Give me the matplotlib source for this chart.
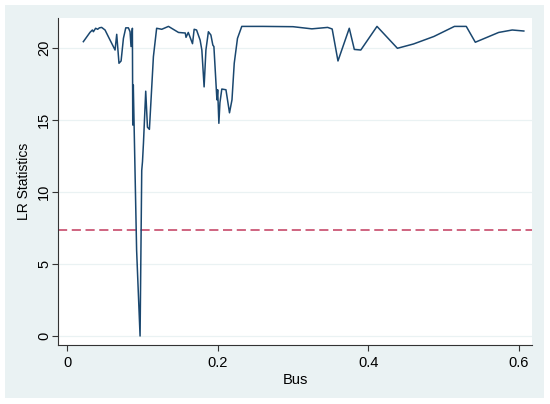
import matplotlib
matplotlib.use("Agg")
import matplotlib.pyplot as plt
from matplotlib.patches import Rectangle

bus = [0.0217, 0.0306, 0.0337, 0.035, 0.038, 0.0407, 0.043, 0.046, 0.0505, 0.056,
       0.0615, 0.0638, 0.066, 0.069, 0.0718, 0.0749, 0.078, 0.0815, 0.0837, 0.085,
       0.0868, 0.0873, 0.088, 0.0924, 0.097, 0.0992, 0.1002, 0.1015, 0.1045, 0.1068,
       0.1094, 0.1147, 0.119, 0.1258, 0.1347, 0.148, 0.157, 0.158, 0.161, 0.1666,
       0.1688, 0.172, 0.1767, 0.179, 0.182, 0.1844, 0.1877, 0.191, 0.1936, 0.195,
       0.199, 0.200, 0.2016, 0.203, 0.2055, 0.211, 0.2157, 0.219, 0.222, 0.2263,
       0.232, 0.26, 0.30, 0.325, 0.346, 0.352, 0.3597, 0.3747, 0.3814, 0.390,
       0.4115, 0.4386, 0.46, 0.487, 0.5143, 0.530, 0.542, 0.573, 0.591, 0.6064]
lr = [20.44, 21.09, 21.25, 21.13, 21.37, 21.3, 21.4, 21.43, 21.25, 20.67,
      20.1, 19.86, 20.95, 18.94, 19.1, 20.67, 21.4, 21.4, 21.13, 20.1,
      21.37, 14.65, 17.43, 5.97, 0.0, 11.5, 12.1, 13.4, 17.0, 14.5,
      14.35, 19.4, 21.37, 21.3, 21.5, 21.08, 21.04, 20.74, 21.08, 20.3,
      21.3, 21.25, 20.55, 19.86, 17.3, 19.86, 21.13, 20.9, 20.2, 20.1,
      16.4, 17.1, 14.77, 16.2, 17.15, 17.1, 15.5, 16.4, 18.94, 20.67,
      21.5, 21.5, 21.48, 21.33, 21.43, 21.32, 19.1, 21.37, 19.9, 19.86,
      21.5, 19.98, 20.28, 20.8, 21.5, 21.5, 20.4, 21.08, 21.25, 21.18]
critical_value = 7.38
x_ticks = [0, 0.2, 0.4, 0.6]
x_tick_labels = ["0", "0.2", "0.4", "0.6"]
y_ticks = [0, 5, 10, 15, 20]
y_tick_labels = ["0", "5", "10", "15", "20"]

plt.rcParams['font.family'] = ['Liberation Sans', 'DejaVu Sans']

W, H = 550, 404
fig = plt.figure(figsize=(W / 100, H / 100), dpi=100, facecolor='white')
fig.patches.append(Rectangle((5 / W, 6 / H), 539 / W, 393 / H, transform=fig.transFigure,
                             facecolor='#EAF2F3', edgecolor='none', zorder=-10))
ax = fig.add_axes([58 / W, (H - 345) / H, (532 - 58) / W, (345 - 18) / H])
ax.set_facecolor('white')

ax.plot(bus, lr, color='#1a476f', lw=1.1, zorder=3)
ax.axhline(critical_value, color='#c23b5e', lw=1.1, dashes=(6, 3), zorder=2)

ppx = (519 - 67) / 0.6
ax.set_xlim(-(67 - 58) / ppx, (532 - 67) / ppx)
ppy = (336 - 48) / 20
ax.set_ylim(-(345 - 336) / ppy, (336 - 18) / ppy)

ax.set_xticks(x_ticks)
ax.set_xticklabels(x_tick_labels)
ax.set_yticks(y_ticks)
ax.set_yticklabels(y_tick_labels, rotation=90, va='center')
ax.tick_params(axis='both', direction='out', length=4, width=0.8, color='#333333',
               labelsize=10.5, labelcolor='black')
ax.tick_params(axis='x', pad=4)
ax.tick_params(axis='y', pad=1)
ax.grid(axis='y', color='#EAF2F3', lw=0.9)
ax.set_axisbelow(True)
for s in ['top', 'right']:
    ax.spines[s].set_visible(False)
for s in ['left', 'bottom']:
    ax.spines[s].set_color('#333333')
    ax.spines[s].set_linewidth(0.8)

ax.set_xlabel('Bus', fontsize=10.5, labelpad=2)
ax.set_ylabel('LR Statistics', fontsize=10, labelpad=4)

fig.savefig('out.png', dpi=100, facecolor='white')
